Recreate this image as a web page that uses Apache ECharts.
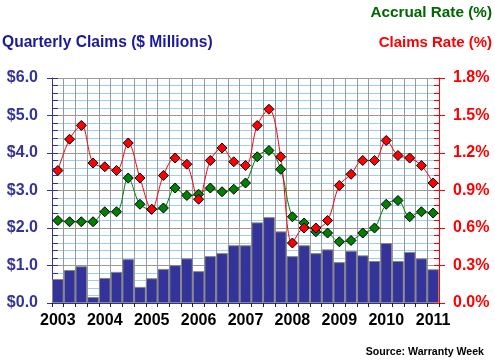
<!DOCTYPE html>
<html>
<head>
<meta charset="utf-8">
<script src="https://cdn.jsdelivr.net/npm/echarts@6/dist/echarts.min.js"></script>
<style>html,body{margin:0;padding:0;background:#fff;}#c{width:495px;height:364px;}</style>
</head>
<body>
<div id="c"></div>
<script>
var quarters = ['2003Q1','2003Q2','2003Q3','2003Q4','2004Q1','2004Q2','2004Q3','2004Q4',
  '2005Q1','2005Q2','2005Q3','2005Q4','2006Q1','2006Q2','2006Q3','2006Q4',
  '2007Q1','2007Q2','2007Q3','2007Q4','2008Q1','2008Q2','2008Q3','2008Q4',
  '2009Q1','2009Q2','2009Q3','2009Q4','2010Q1','2010Q2','2010Q3','2010Q4','2011Q1'];
var claimsMillions = [0.64,0.88,0.98,0.16,0.67,0.83,1.17,0.43,0.66,0.91,1.01,
  1.19,0.85,1.25,1.33,1.54,1.54,2.15,2.29,1.91,1.25,1.54,
  1.33,1.43,1.09,1.39,1.27,1.12,1.60,1.12,1.36,1.19,0.90];
var claimsRate = [1.06,1.31,1.42,1.12,1.09,1.06,1.28,1.00,0.75,1.02,1.16,
  1.11,0.83,1.14,1.24,1.13,1.10,1.42,1.55,1.17,0.48,0.60,
  0.60,0.66,0.94,1.03,1.14,1.14,1.30,1.18,1.16,1.10,0.96];
var accrualRate = [0.66,0.65,0.65,0.65,0.73,0.73,1.00,0.79,0.75,0.76,0.92,
  0.86,0.87,0.92,0.89,0.91,0.96,1.17,1.22,1.07,0.69,0.64,
  0.57,0.56,0.49,0.50,0.56,0.60,0.79,0.82,0.69,0.73,0.72];
var leftTicks = {min:0, max:6, interval:1};
var rightTicks = {min:0, max:1.8, interval:0.3};

var navy = '#333399';
var FONT = 'Liberation Sans, Arial, sans-serif';
var chart = echarts.init(document.getElementById('c'), null, {renderer:'canvas'});
chart.setOption({
  animation:false,
  backgroundColor:'#ffffff',
  grid:{left:52, right:56, top:78, bottom:61, containLabel:false},
  xAxis:{
    type:'category', data:quarters, boundaryGap:true,
    axisLine:{show:true, lineStyle:{color:navy, width:1}},
    axisTick:{show:true, interval:0, length:4, lineStyle:{color:'#222'}},
    axisLabel:{interval:0, margin:10, color:'#000', fontFamily:FONT, fontWeight:'bold', fontSize:16,
      formatter:function(v){return v.slice(4)==='Q1' ? v.slice(0,4) : '';}},
    splitLine:{show:true, interval:0, lineStyle:{color:'#999999', width:1}}
  },
  yAxis:[
    {type:'value', position:'left', min:leftTicks.min, max:leftTicks.max, interval:leftTicks.interval,
     axisLine:{show:true, lineStyle:{color:navy}},
     axisTick:{show:true, inside:true, length:6, lineStyle:{color:navy}},
     minorTick:{show:true, splitNumber:5, length:6, lineStyle:{color:navy}},
     minorSplitLine:{show:true, lineStyle:{color:'#99ccff', width:1}},
     splitLine:{show:true, lineStyle:{color:'#999999', width:1}},
     axisLabel:{margin:14, color:navy, fontFamily:FONT, fontWeight:'bold', fontSize:16,
       formatter:function(v){return '$'+v.toFixed(1);}}},
    {type:'value', position:'right', min:rightTicks.min, max:rightTicks.max, interval:rightTicks.interval,
     axisLine:{show:true, lineStyle:{color:'#ff0000'}},
     axisTick:{show:true, inside:true, length:5, lineStyle:{color:'#ff0000'}},
     minorTick:{show:true, splitNumber:5, length:5, lineStyle:{color:'#ff0000'}},
     splitLine:{show:false},
     axisLabel:{margin:14, color:'#ff0000', fontFamily:FONT, fontWeight:'bold', fontSize:16,
       formatter:function(v){return v.toFixed(1)+'%';}}},
    {type:'value', position:'left', min:leftTicks.min, max:leftTicks.max, interval:leftTicks.interval,
     axisLine:{show:false}, axisLabel:{show:false}, splitLine:{show:false},
     axisTick:{show:true, inside:false, length:5, lineStyle:{color:navy}}},
    {type:'value', position:'right', min:rightTicks.min, max:rightTicks.max, interval:rightTicks.interval,
     axisLine:{show:false}, axisLabel:{show:false}, splitLine:{show:false},
     axisTick:{show:true, inside:false, length:6, lineStyle:{color:'#ff0000'}}}
  ],
  series:[
    {type:'bar', name:'Quarterly Claims', yAxisIndex:0, data:claimsMillions,
     barCategoryGap:'0%', itemStyle:{color:navy, borderColor:'#888888', borderWidth:1}},
    {type:'line', name:'Accrual Rate', yAxisIndex:1, data:accrualRate, smooth:0.35,
     symbol:'diamond', symbolSize:10,
     lineStyle:{color:'#008000', width:1},
     itemStyle:{color:'#008000', borderColor:'#000', borderWidth:1}},
    {type:'line', name:'Claims Rate', yAxisIndex:1, data:claimsRate, smooth:0.35,
     symbol:'diamond', symbolSize:10,
     lineStyle:{color:'#ff0000', width:1},
     itemStyle:{color:'#ff0000', borderColor:'#000', borderWidth:1}}
  ],
  graphic:[
    {type:'text', left:2, top:35, style:{text:'Quarterly Claims ($ Millions)', fill:'#1a1a99',
      font:'bold 15.6px '+FONT}},
    {type:'text', right:3, top:5, style:{text:'Accrual Rate (%)', fill:'#006600',
      font:'bold 15.3px '+FONT}},
    {type:'text', right:3, top:35, style:{text:'Claims Rate (%)', fill:'#ff0000',
      font:'bold 15px '+FONT}},
    {type:'text', right:11, top:347, style:{text:'Source: Warranty Week', fill:'#000',
      font:'bold 10.6px '+FONT}}
  ]
});
</script>
</body>
</html>
